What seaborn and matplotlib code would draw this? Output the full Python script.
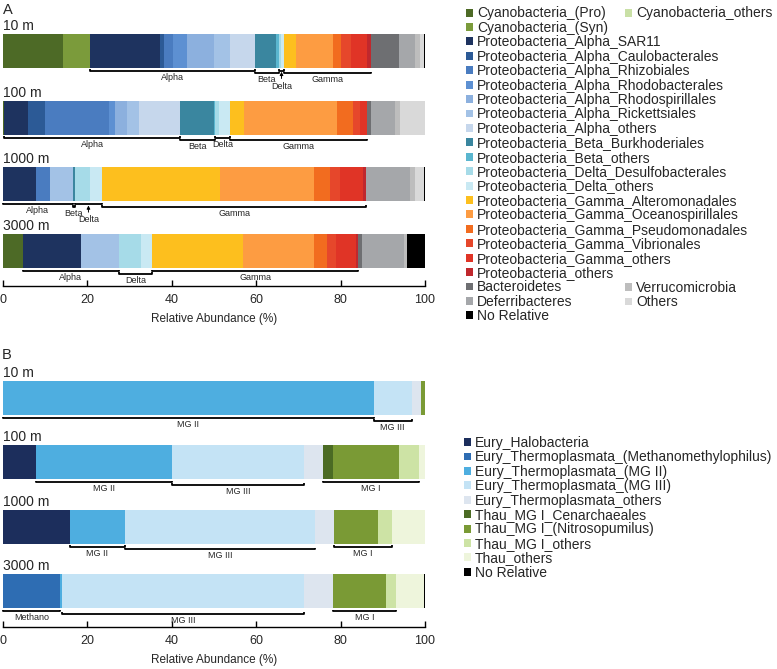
import numpy as np
import pandas as pd
import matplotlib
matplotlib.use("Agg")
import matplotlib.pyplot as plt
import seaborn as sns
from matplotlib.patches import Patch

sns.set_theme(style="white")
plt.rcParams["font.family"] = ["Liberation Sans", "DejaVu Sans"]

depths = ["10 m", "100 m", "1000 m", "3000 m"]

# ---------------- Panel A: Bacteria ----------------
bac_categories = [
    "Cyanobacteria_(Pro)", "Cyanobacteria_(Syn)", "Cyanobacteria_others",
    "Proteobacteria_Alpha_SAR11", "Proteobacteria_Alpha_Caulobacterales",
    "Proteobacteria_Alpha_Rhizobiales", "Proteobacteria_Alpha_Rhodobacterales",
    "Proteobacteria_Alpha_Rhodospirillales", "Proteobacteria_Alpha_Rickettsiales",
    "Proteobacteria_Alpha_others", "Proteobacteria_Beta_Burkhoderiales",
    "Proteobacteria_Beta_others", "Proteobacteria_Delta_Desulfobacterales",
    "Proteobacteria_Delta_others", "Proteobacteria_Gamma_Alteromonadales",
    "Proteobacteria_Gamma_Oceanospirillales", "Proteobacteria_Gamma_Pseudomonadales",
    "Proteobacteria_Gamma_Vibrionales", "Proteobacteria_Gamma_others",
    "Proteobacteria_others", "Bacteroidetes", "Deferribacteres",
    "Verrucomicrobia", "Others", "No Relative",
]
bac_10m = [14.1, 6.6, 0.0, 16.4, 1.1, 2.2, 3.2, 6.3, 4.0, 5.7, 5.2, 0.6, 0.4, 0.8,
           2.9, 8.6, 1.9, 2.4, 3.8, 1.1, 6.6, 3.7, 1.3, 0.9, 0.2]
bac_100m = [0.3, 0.0, 0.0, 5.7, 3.9, 15.2, 1.4, 2.9, 2.9, 9.7, 7.9, 0.4, 0.9, 2.6,
            3.4, 22.0, 3.8, 1.6, 1.6, 0.0, 0.9, 5.8, 1.2, 5.9, 0.0]
bac_1000m = [0.0, 0.0, 0.0, 7.8, 0.0, 3.3, 0.0, 0.0, 5.4, 0.0, 0.6, 0.0, 3.5, 2.8,
             28.0, 22.4, 3.6, 2.4, 5.5, 0.8, 0.0, 10.3, 1.2, 2.2, 0.2]
bac_3000m = [4.7, 0.0, 0.0, 13.7, 0.0, 0.0, 0.0, 0.0, 9.0, 0.0, 0.0, 0.0, 5.2, 2.7,
             21.6, 16.8, 3.1, 2.2, 4.6, 0.6, 0.8, 10.1, 0.6, 0.0, 4.3]
bac_colors = [
    "#4d6a26", "#7b9b3b", "#c9e0a6",
    "#1e335f", "#2c5a96", "#4a7cc0", "#5d90d2", "#8cb0de", "#a3c2e6", "#c6d7ec",
    "#3a869f", "#5ab6cf", "#a6dbe8", "#c9e9f3",
    "#fdbf1e", "#fd9c42", "#f26c1f", "#e6472b", "#e03426", "#c0282d",
    "#6e6f72", "#a5a7aa", "#bdbdbd", "#d9d9d9", "#000000",
]
bac_groups = {
    "Alpha": [c for c in bac_categories if c.startswith("Proteobacteria_Alpha")],
    "Beta": [c for c in bac_categories if c.startswith("Proteobacteria_Beta")],
    "Delta": [c for c in bac_categories if c.startswith("Proteobacteria_Delta")],
    "Gamma": [c for c in bac_categories if c.startswith("Proteobacteria_Gamma")]
             + ["Proteobacteria_others"],
}
bac_brackets = {
    "10 m": [("Alpha", "text"), ("Beta", "text"), ("Delta", "arrow"), ("Gamma", "text")],
    "100 m": [("Alpha", "text"), ("Beta", "text"), ("Delta", "text"), ("Gamma", "text")],
    "1000 m": [("Alpha", "text"), ("Beta", "text"), ("Delta", "arrow"), ("Gamma", "text")],
    "3000 m": [("Alpha", "text"), ("Delta", "text"), ("Gamma", "text")],
}

# ---------------- Panel B: Archaea ----------------
arc_categories = [
    "Eury_Halobacteria", "Eury_Thermoplasmata_(Methanomethylophilus)",
    "Eury_Thermoplasmata_(MG II)", "Eury_Thermoplasmata_(MG III)",
    "Eury_Thermoplasmata_others", "Thau_MG I_Cenarchaeales",
    "Thau_MG I_(Nitrosopumilus)", "Thau_MG I_others", "Thau_others", "No Relative",
]
arc_10m = [0.0, 0.0, 87.8, 9.1, 2.1, 0.0, 1.0, 0.0, 0.0, 0.0]
arc_100m = [7.8, 0.0, 32.2, 31.4, 4.4, 2.4, 15.7, 4.6, 1.5, 0.0]
arc_1000m = [15.9, 0.0, 12.9, 45.2, 4.5, 0.0, 10.3, 3.4, 7.8, 0.0]
arc_3000m = [0.0, 13.5, 0.5, 57.3, 7.0, 0.0, 12.5, 2.3, 6.6, 0.3]
arc_colors = ["#1c2e5c", "#2e6db3", "#4eaee0", "#c4e3f5", "#dde5ef",
              "#4b6b24", "#7a9a35", "#cde3a5", "#eef5dc", "#000000"]
arc_groups = {
    "Methano": ["Eury_Thermoplasmata_(Methanomethylophilus)"],
    "MG II": ["Eury_Thermoplasmata_(MG II)"],
    "MG III": ["Eury_Thermoplasmata_(MG III)"],
    "MG I": ["Thau_MG I_Cenarchaeales", "Thau_MG I_(Nitrosopumilus)", "Thau_MG I_others"],
}
arc_brackets = {
    "10 m": [("MG II", "text"), ("MG III", "text")],
    "100 m": [("MG II", "text"), ("MG III", "text"), ("MG I", "text")],
    "1000 m": [("MG II", "text"), ("MG III", "text"), ("MG I", "text")],
    "3000 m": [("Methano", "text"), ("MG III", "text"), ("MG I", "text")],
}

W, H = 777, 669
fig = plt.figure(figsize=(W / 100, H / 100), dpi=100)


def add_axes_px(left, top, right, bottom):
    return fig.add_axes([left / W, 1 - bottom / H, (right - left) / W, (bottom - top) / H])


def draw_panel(ax, cats, vals, colors, bar_w, ylim, groups, brackets):
    rows = []
    for d, v in zip(depths, vals):
        cum = np.cumsum(v)
        for c, val, right in zip(cats, v, cum):
            rows.append(dict(depth=d, category=c, value=val, right=right, left=right - val))
    df = pd.DataFrame(rows)
    for c, col in reversed(list(zip(cats, colors))):
        sub = df[df["category"] == c]
        sns.barplot(data=sub, x="right", y="depth", order=depths, orient="h",
                    color=col, saturation=1, width=bar_w, errorbar=None,
                    linewidth=0, ax=ax)
    ax.set_xlim(0, 100)
    ax.set_ylim(*ylim)
    ax.set_ylabel("")
    ax.set_yticks([])
    ax.set_xticks([0, 20, 40, 60, 80, 100])
    ax.set_xticklabels(["0", "20", "40", "60", "80", "100"])
    for s in ["top", "right", "left"]:
        ax.spines[s].set_visible(False)
    ax.spines["bottom"].set_color("black")
    ax.spines["bottom"].set_linewidth(1.0)
    ax.tick_params(axis="x", direction="in", length=4, width=1.0, color="black",
                   pad=6, labelsize=9, bottom=True)
    ax.set_xlabel("Relative Abundance (%)", fontsize=8.5, labelpad=5)

    pos = ax.get_position()
    ppu = pos.height * H / abs(ylim[0] - ylim[1])
    px = lambda p: p / ppu

    for i, d in enumerate(depths):
        top = i - bar_w / 2
        bottom = i + bar_w / 2
        ax.text(0, top - px(1.0), d, fontsize=10, ha="left", va="bottom", clip_on=False)
        sub = df[df["depth"] == d]
        for j, (g, style) in enumerate(brackets[d]):
            gs = sub[sub["category"].isin(groups[g]) & (sub["value"] > 0)]
            x0, x1 = gs["left"].min(), gs["right"].max()
            y = bottom + px(3.0 if j % 2 == 0 else 5.5)
            ax.plot([x0, x0, x1, x1], [y - px(1.5), y, y, y - px(1.5)], color="black",
                    lw=1.3, solid_capstyle="butt", clip_on=False)
            xc = (x0 + x1) / 2
            if style == "arrow":
                ax.annotate(g, xy=(xc, y + px(1)), xytext=(xc, y + px(11)),
                            ha="center", va="top", fontsize=6.5,
                            arrowprops=dict(arrowstyle="-|>,head_length=0.3,head_width=0.15",
                                            lw=0.7, color="black", shrinkA=0, shrinkB=0),
                            annotation_clip=False)
            else:
                ax.text(xc, y + px(2.0), g, ha="center", va="top", fontsize=6.5, clip_on=False)


axA = add_axes_px(3, 20, 425, 286)
draw_panel(axA, bac_categories, [bac_10m, bac_100m, bac_1000m, bac_3000m], bac_colors,
           0.51, (3.52, -0.46), bac_groups, bac_brackets)

axB = add_axes_px(3, 368, 425, 627)
draw_panel(axB, arc_categories, [arc_10m, arc_100m, arc_1000m, arc_3000m], arc_colors,
           0.53, (3.56, -0.467), arc_groups, arc_brackets)

fig.text(3 / W, 1 - 13.5 / H, "A", fontsize=10.5, ha="left", va="baseline")
fig.text(2 / W, 1 - 359 / H, "B", fontsize=10.5, ha="left", va="baseline")

# ---------------- Legends ----------------
bac_color_map = dict(zip(bac_categories, bac_colors))
arc_color_map = dict(zip(arc_categories, arc_colors))
second_col = ["Cyanobacteria_others", "Verrucomicrobia", "Others"]
main_col = [c for c in bac_categories if c not in second_col]

leg_kw = dict(frameon=False, fontsize=10, handlelength=0.5, handleheight=0.5,
              handletextpad=0.29, labelspacing=0.03, borderpad=0, borderaxespad=0,
              loc="upper left")


def handles_for(names, cmap):
    return [Patch(facecolor=cmap[n], edgecolor="none", label=n) for n in names]


fig.legend(handles=handles_for(main_col, bac_color_map), bbox_to_anchor=(466 / W, 1 - 6.5 / H), **leg_kw)
fig.legend(handles=handles_for(["Cyanobacteria_others"], bac_color_map),
           bbox_to_anchor=(625 / W, 1 - 6.5 / H), **leg_kw)
fig.legend(handles=handles_for(["Verrucomicrobia", "Others"], bac_color_map),
           bbox_to_anchor=(625 / W, 1 - 281 / H), **leg_kw)
fig.legend(handles=handles_for(arc_categories, arc_color_map),
           bbox_to_anchor=(464 / W, 1 - 436 / H), **leg_kw)

fig.savefig("out.png", dpi=100)
